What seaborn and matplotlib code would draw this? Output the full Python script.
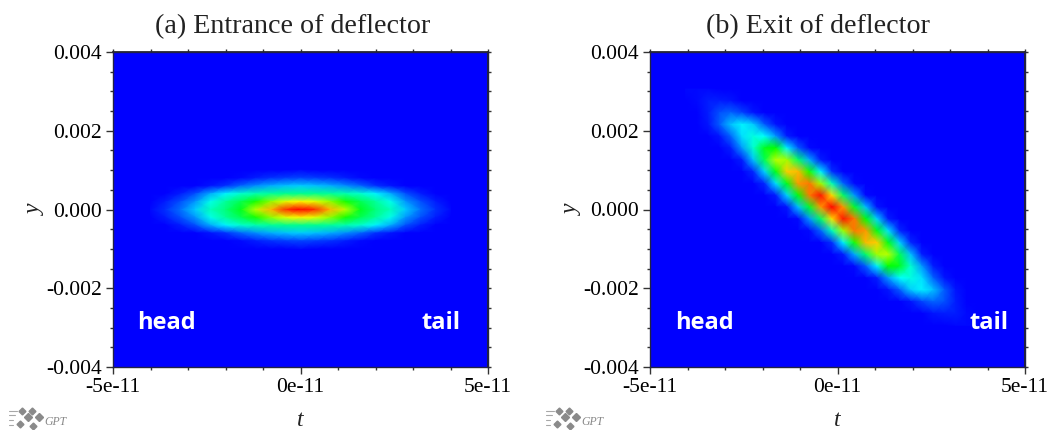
import numpy as np
import pandas as pd
import matplotlib
matplotlib.use("Agg")
import matplotlib.pyplot as plt
from matplotlib.colors import LinearSegmentedColormap
from matplotlib.lines import Line2D
import seaborn as sns

# --- Data (beam density, percent of peak) ---
t_a = [-4.0e-11, -3.6e-11, -3.2e-11, -2.8e-11, -2.4e-11, -2.0e-11, -1.6e-11, -1.2e-11, -0.8e-11, -0.4e-11, 0.0,
       0.4e-11, 0.8e-11, 1.2e-11, 1.6e-11, 2.0e-11, 2.4e-11, 2.8e-11, 3.2e-11, 3.6e-11, 4.0e-11]
y_a = [0.001, 0.0008, 0.0006, 0.0004, 0.0002, 0.0, -0.0002, -0.0004, -0.0006, -0.0008, -0.001]
density_a = [
    [0, 0, 0, 0, 0, 0, 0, 0, 0, 0, 1, 0, 0, 0, 0, 0, 0, 0, 0, 0, 0],
    [0, 0, 0, 0, 0, 0, 1, 3, 5, 6, 7, 6, 5, 3, 1, 0, 0, 0, 0, 0, 0],
    [0, 0, 0, 0, 2, 5, 10, 14, 17, 19, 20, 19, 17, 14, 10, 5, 2, 0, 0, 0, 0],
    [0, 0, 3, 8, 17, 24, 30, 33, 35, 36, 36, 36, 35, 33, 30, 24, 17, 8, 3, 0, 0],
    [0, 3, 8, 15, 27, 35, 42, 52, 64, 72, 76, 72, 64, 52, 42, 35, 27, 15, 8, 3, 0],
    [1, 5, 11, 20, 32, 38, 47, 68, 82, 95, 100, 95, 82, 68, 47, 38, 32, 20, 11, 5, 1],
    [0, 3, 8, 15, 27, 35, 42, 52, 64, 72, 76, 72, 64, 52, 42, 35, 27, 15, 8, 3, 0],
    [0, 0, 3, 8, 17, 24, 30, 33, 35, 36, 36, 36, 35, 33, 30, 24, 17, 8, 3, 0, 0],
    [0, 0, 0, 0, 2, 5, 10, 14, 17, 19, 20, 19, 17, 14, 10, 5, 2, 0, 0, 0, 0],
    [0, 0, 0, 0, 0, 0, 1, 3, 5, 6, 7, 6, 5, 3, 1, 0, 0, 0, 0, 0, 0],
    [0, 0, 0, 0, 0, 0, 0, 0, 0, 0, 1, 0, 0, 0, 0, 0, 0, 0, 0, 0, 0],
]

t_b = [-4.05e-11, -3.75e-11, -3.45e-11, -3.15e-11, -2.85e-11, -2.55e-11, -2.25e-11, -1.95e-11, -1.65e-11,
       -1.35e-11, -1.05e-11, -0.75e-11, -0.45e-11, -0.15e-11, 0.15e-11, 0.45e-11, 0.75e-11, 1.05e-11, 1.35e-11,
       1.65e-11, 1.95e-11, 2.25e-11, 2.55e-11, 2.85e-11, 3.15e-11, 3.45e-11, 3.75e-11]
y_b = [0.00306, 0.00276, 0.00246, 0.00216, 0.00186, 0.00156, 0.00126, 0.00096, 0.00066, 0.00036, 0.00006,
       -0.00024, -0.00054, -0.00084, -0.00114, -0.00144, -0.00174, -0.00204, -0.00234, -0.00264, -0.00294]
density_b = [
    [1, 1, 1, 0, 0, 0, 0, 0, 0, 0, 0, 0, 0, 0, 0, 0, 0, 0, 0, 0, 0, 0, 0, 0, 0, 0, 0],
    [0, 1, 3, 3, 2, 0, 0, 0, 0, 0, 0, 0, 0, 0, 0, 0, 0, 0, 0, 0, 0, 0, 0, 0, 0, 0, 0],
    [0, 0, 3, 8, 10, 7, 2, 0, 0, 0, 0, 0, 0, 0, 0, 0, 0, 0, 0, 0, 0, 0, 0, 0, 0, 0, 0],
    [0, 0, 2, 9, 19, 24, 20, 9, 2, 0, 0, 0, 0, 0, 0, 0, 0, 0, 0, 0, 0, 0, 0, 0, 0, 0, 0],
    [0, 0, 0, 2, 10, 22, 28, 25, 15, 3, 0, 0, 0, 0, 0, 0, 0, 0, 0, 0, 0, 0, 0, 0, 0, 0, 0],
    [0, 0, 0, 0, 3, 15, 30, 47, 50, 24, 9, 1, 0, 0, 0, 0, 0, 0, 0, 0, 0, 0, 0, 0, 0, 0, 0],
    [0, 0, 0, 0, 0, 3, 19, 42, 68, 66, 40, 17, 3, 0, 0, 0, 0, 0, 0, 0, 0, 0, 0, 0, 0, 0, 0],
    [0, 0, 0, 0, 0, 0, 4, 21, 48, 80, 82, 52, 24, 5, 0, 0, 0, 0, 0, 0, 0, 0, 0, 0, 0, 0, 0],
    [0, 0, 0, 0, 0, 0, 0, 4, 22, 48, 85, 88, 66, 32, 10, 1, 0, 0, 0, 0, 0, 0, 0, 0, 0, 0, 0],
    [0, 0, 0, 0, 0, 0, 0, 0, 3, 21, 49, 88, 98, 78, 40, 15, 1, 0, 0, 0, 0, 0, 0, 0, 0, 0, 0],
    [0, 0, 0, 0, 0, 0, 0, 0, 0, 2, 19, 46, 85, 100, 85, 46, 19, 2, 0, 0, 0, 0, 0, 0, 0, 0, 0],
    [0, 0, 0, 0, 0, 0, 0, 0, 0, 0, 1, 15, 40, 78, 98, 88, 49, 21, 3, 0, 0, 0, 0, 0, 0, 0, 0],
    [0, 0, 0, 0, 0, 0, 0, 0, 0, 0, 0, 1, 10, 32, 66, 88, 85, 48, 22, 4, 0, 0, 0, 0, 0, 0, 0],
    [0, 0, 0, 0, 0, 0, 0, 0, 0, 0, 0, 0, 0, 5, 24, 52, 82, 80, 48, 21, 4, 0, 0, 0, 0, 0, 0],
    [0, 0, 0, 0, 0, 0, 0, 0, 0, 0, 0, 0, 0, 0, 3, 17, 40, 66, 68, 42, 19, 3, 0, 0, 0, 0, 0],
    [0, 0, 0, 0, 0, 0, 0, 0, 0, 0, 0, 0, 0, 0, 0, 1, 9, 24, 50, 47, 30, 15, 3, 0, 0, 0, 0],
    [0, 0, 0, 0, 0, 0, 0, 0, 0, 0, 0, 0, 0, 0, 0, 0, 0, 3, 15, 25, 28, 22, 10, 2, 0, 0, 0],
    [0, 0, 0, 0, 0, 0, 0, 0, 0, 0, 0, 0, 0, 0, 0, 0, 0, 0, 2, 9, 20, 24, 19, 9, 2, 0, 0],
    [0, 0, 0, 0, 0, 0, 0, 0, 0, 0, 0, 0, 0, 0, 0, 0, 0, 0, 0, 0, 2, 7, 10, 8, 3, 0, 0],
    [0, 0, 0, 0, 0, 0, 0, 0, 0, 0, 0, 0, 0, 0, 0, 0, 0, 0, 0, 0, 0, 0, 2, 3, 3, 1, 0],
    [0, 0, 0, 0, 0, 0, 0, 0, 0, 0, 0, 0, 0, 0, 0, 0, 0, 0, 0, 0, 0, 0, 0, 0, 1, 1, 1],
]

titles = ["(a) Entrance of deflector", "(b) Exit of deflector"]
t_major = [-5e-11, 0.0, 5e-11]
t_minor = [-4e-11, -3e-11, -2e-11, -1e-11, 1e-11, 2e-11, 3e-11, 4e-11]
y_major = [-0.004, -0.002, 0.0, 0.002, 0.004]
y_minor = [-0.0035, -0.003, -0.0025, -0.0015, -0.001, -0.0005, 0.0005, 0.001, 0.0015, 0.0025, 0.003, 0.0035]
t_labels = ["-5e-11", "0e-11", "5e-11"]
y_labels = ["-0.004", "-0.002", "0.000", "0.002", "0.004"]

# --- Setup ---
sns.set_theme(style="white")
plt.rcParams["font.family"] = ["Liberation Serif", "DejaVu Serif"]
gpt_map = LinearSegmentedColormap.from_list("gpt", ["#0000ff", "#00ffff", "#00ff00", "#ffff00", "#ff0000"])

W, H = 1047, 430
fig = plt.figure(figsize=(W / 100, H / 100), dpi=100)


def draw_panel(left, density, t_vals, y_vals, title, title_x, head_x, tail_x):
    ax = fig.add_axes([left / W, 1 - 367 / H, 375 / W, 315 / H], facecolor="#0000ff")
    df = pd.DataFrame(density, index=y_vals, columns=t_vals)
    sns.heatmap(df, ax=ax, cmap=gpt_map, vmin=0, vmax=100, cbar=False,
                xticklabels=False, yticklabels=False, shading="gouraud")

    # heatmap works in cell index, so map the physical ticks onto it
    dt = t_vals[1] - t_vals[0]
    dy = y_vals[1] - y_vals[0]
    to_x = lambda v: (np.asarray(v) - t_vals[0]) / dt
    to_y = lambda v: (np.asarray(v) - y_vals[0]) / dy
    ax.set_xlim(to_x(-5e-11), to_x(5e-11))
    ax.set_ylim(to_y(-0.004), to_y(0.004))

    ax.set_xticks(to_x(t_major))
    ax.set_xticklabels(t_labels)
    ax.set_xticks(to_x(t_minor), minor=True)
    ax.set_yticks(to_y(y_major))
    ax.set_yticklabels(y_labels)
    ax.set_yticks(to_y(y_minor), minor=True)
    ax.tick_params(which="major", length=5, width=1, color="#333333", labelsize=15.5, labelcolor="#000000",
                   pad=3, bottom=True, left=True, direction="out", rotation=0)
    ax.tick_params(which="minor", length=2.5, width=1, color="#333333", bottom=True, left=True, direction="out")
    for spine in ax.spines.values():
        spine.set_visible(True)
        spine.set_color("#222244")
        spine.set_linewidth(1)

    # the top and right edges only carry short ticks
    top = ax.secondary_xaxis("top")
    top.set_xticks(to_x(t_major + t_minor))
    top.tick_params(length=2, width=1, color="#333333", labeltop=False)
    right = ax.secondary_yaxis("right")
    right.set_yticks(to_y(y_major + y_minor))
    right.tick_params(length=2, width=1, color="#333333", labelright=False)

    fig.text(title_x / W, 1 - 27 / H, title, fontsize=20.2, color="#222222", ha="center", va="center")
    ax.set_xlabel("t", fontsize=17, style="italic", color="#222222", labelpad=9)
    ax.set_ylabel("y", fontsize=17, style="italic", color="#222222", labelpad=0)

    for x, word in [(head_x, "head"), (tail_x, "tail")]:
        ax.text((x - left) / 375, 1 - (323 - 52) / 315, word, transform=ax.transAxes, color="white",
                fontsize=17, fontweight="bold", family="Open Sans", ha="center", va="center")


draw_panel(113, density_a, t_a, y_a, titles[0], 293, 166, 441)
draw_panel(650, density_b, t_b, y_b, titles[1], 818, 704, 989)


def draw_logo(x0):
    # small grey GPT mark under each panel
    for (px, py) in [(22, 411), (32, 411), (28, 417), (39, 417), (20, 424), (33, 426)]:
        fig.add_artist(Line2D([(px + x0) / W], [1 - py / H], marker="D", color="#8a8a8a",
                              markersize=4.5 if px in (28, 39) else 3.5, transform=fig.transFigure))
    for (px0, px1, py) in [(9, 17, 411), (9, 15, 415), (9, 13, 420), (9, 13, 425)]:
        fig.add_artist(Line2D([(px0 + x0) / W, (px1 + x0) / W], [1 - py / H, 1 - py / H], color="#a8a8a8",
                              lw=0.8, transform=fig.transFigure))
    fig.text((44 + x0) / W, 1 - 422 / H, "GPT", fontsize=8.5, style="italic", color="#888888", va="center")


draw_logo(0)
draw_logo(537)

plt.savefig("out.png", dpi=100)
plt.close()
